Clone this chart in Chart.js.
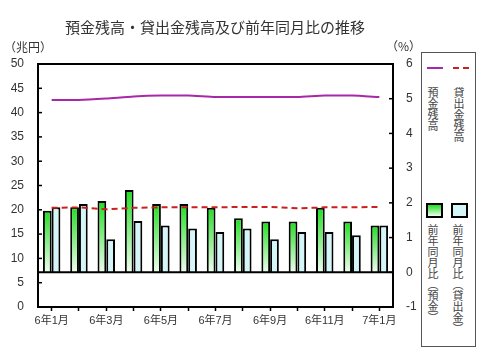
<!DOCTYPE html>
<html>
<head>
<meta charset="utf-8">
<script src="https://cdn.jsdelivr.net/npm/chart.js@4"></script>
<style>
  body { margin: 0; background: #fff; }
  #wrap { position: relative; width: 480px; height: 360px; }
  #chartBox { position: absolute; left: 0; top: 0; width: 430px; height: 360px; }
  .legend-box {
    position: absolute; left: 421px; top: 52px; width: 55px; height: 295px;
    border: 1px solid #555; box-sizing: border-box; background: #fff;
  }
  .vtext {
    position: absolute; writing-mode: vertical-rl; font-family: "Noto Sans CJK JP", sans-serif;
    font-size: 11px; line-height: 12px; color: #444; letter-spacing: 0;
  }
  .swatch { position: absolute; }
</style>
</head>
<body>
<div id="wrap">
  <div id="chartBox"><canvas id="chart"></canvas></div>
  <div class="legend-box" id="legend"></div>
</div>
<script>
const months = ["6年1月", "6年2月", "6年3月", "6年4月", "6年5月", "6年6月", "6年7月",
  "6年8月", "6年9月", "6年10月", "6年11月", "6年12月", "7年1月"];
// 兆円
const depositBalance = [42.6, 42.6, 42.9, 43.3, 43.5, 43.5, 43.2, 43.2, 43.2, 43.2, 43.5, 43.5, 43.2];
const loanBalance = [20.4, 20.5, 20.1, 20.4, 20.5, 20.5, 20.5, 20.6, 20.6, 20.3, 20.5, 20.5, 20.6];
// %
const depositYoY = [1.77, 1.87, 2.05, 2.37, 1.97, 1.97, 1.86, 1.56, 1.46, 1.46, 1.86, 1.46, 1.35];
const loanYoY = [1.87, 1.97, 0.95, 1.48, 1.35, 1.26, 1.16, 1.26, 0.95, 1.16, 1.16, 1.07, 1.35];
const leftTicks = { min: 0, max: 50, step: 5 };
const rightTicks = { min: -1, max: 6, step: 1 };

const FONT = "'Liberation Sans', 'Noto Sans CJK JP', sans-serif";
const CJK = "'Noto Sans CJK JP', sans-serif";

function greenFill(context) {
  const chart = context.chart;
  const area = chart.chartArea;
  if (!area) return "#22dd22";
  const y1 = chart.scales.y1;
  const top = y1.getPixelForValue(context.raw);
  const base = y1.getPixelForValue(0);
  const g = chart.ctx.createLinearGradient(0, top, 0, base);
  g.addColorStop(0, "#1ee01e");
  g.addColorStop(1, "#effdef");
  return g;
}

const frameAndTicks = {
  id: "frameAndTicks",
  afterDatasetsDraw(chart) {
    const { ctx, chartArea: a, scales } = chart;
    ctx.save();
    ctx.strokeStyle = "#000";
    // zero line on the % axis
    const z = scales.y1.getPixelForValue(0);
    ctx.lineWidth = 2;
    ctx.beginPath();
    ctx.moveTo(a.left, z);
    ctx.lineTo(a.right, z);
    ctx.stroke();
    // inward tick marks
    ctx.lineWidth = 1.5;
    for (let v = leftTicks.min; v <= leftTicks.max; v += leftTicks.step) {
      const p = scales.y.getPixelForValue(v);
      ctx.beginPath();
      ctx.moveTo(a.left, p);
      ctx.lineTo(a.left + 4, p);
      ctx.stroke();
    }
    for (let v = rightTicks.min; v <= rightTicks.max; v += rightTicks.step) {
      const p = scales.y1.getPixelForValue(v);
      ctx.beginPath();
      ctx.moveTo(a.right, p);
      ctx.lineTo(a.right - 4, p);
      ctx.stroke();
    }
    // top border
    ctx.lineWidth = 2;
    ctx.beginPath();
    ctx.moveTo(a.left, a.top);
    ctx.lineTo(a.right, a.top);
    ctx.stroke();
    // unit labels
    ctx.fillStyle = "#333";
    ctx.font = "12px " + CJK;
    ctx.textBaseline = "middle";
    ctx.textAlign = "left";
    ctx.fillText("（兆円）", 4, 47);
    ctx.fillText("（%）", 386, 46);
    ctx.restore();
  },
};

new Chart(document.getElementById("chart"), {
  data: {
    labels: months,
    datasets: [
      {
        type: "line",
        label: "預金残高",
        data: depositBalance,
        yAxisID: "y",
        borderColor: "#a828a8",
        borderWidth: 2,
        pointRadius: 0,
        tension: 0.2,
        order: 0,
      },
      {
        type: "line",
        label: "貸出金残高",
        data: loanBalance,
        yAxisID: "y",
        borderColor: "#cc1f1f",
        borderWidth: 2,
        borderDash: [6, 4],
        pointRadius: 0,
        order: 0,
      },
      {
        type: "bar",
        label: "前年同月比（預金）",
        data: depositYoY,
        yAxisID: "y1",
        backgroundColor: greenFill,
        borderColor: "#000",
        borderWidth: 2,
        borderSkipped: "bottom",
        categoryPercentage: 0.64,
        barPercentage: 1,
        order: 1,
      },
      {
        type: "bar",
        label: "前年同月比（貸出金）",
        data: loanYoY,
        yAxisID: "y1",
        backgroundColor: "#d4f6f8",
        borderColor: "#000",
        borderWidth: 2,
        borderSkipped: "bottom",
        categoryPercentage: 0.64,
        barPercentage: 1,
        order: 1,
      },
    ],
  },
  options: {
    responsive: true,
    maintainAspectRatio: false,
    animation: false,
    layout: { padding: 0 },
    plugins: {
      legend: { display: false },
      tooltip: { enabled: false },
      title: {
        display: true,
        text: "預金残高・貸出金残高及び前年同月比の推移",
        color: "#333",
        font: { family: CJK, size: 15, weight: "normal", lineHeight: 1.2 },
        padding: { top: 18, bottom: 28 },
      },
    },
    scales: {
      x: {
        offset: true,
        grid: { display: true, drawOnChartArea: false, offset: false, tickLength: 4, tickColor: "#000", tickWidth: 1.5 },
        border: { display: true, color: "#000", width: 2 },
        ticks: {
          autoSkip: false,
          maxRotation: 0,
          padding: 3,
          color: "#333",
          font: { family: FONT, size: 11 },
          callback: (v, i) => (i % 2 === 0 ? months[i] : ""),
        },
        afterFit: (s) => { s.height = 53; },
      },
      y: {
        position: "left",
        min: leftTicks.min,
        max: leftTicks.max,
        grid: { display: false },
        border: { display: true, color: "#000", width: 2 },
        ticks: { stepSize: leftTicks.step, padding: 6, color: "#333", font: { family: FONT, size: 12 } },
        afterFit: (s) => { s.width = 38; },
      },
      y1: {
        position: "right",
        min: rightTicks.min,
        max: rightTicks.max,
        grid: { display: false },
        border: { display: true, color: "#000", width: 2 },
        ticks: { stepSize: rightTicks.step, padding: 5, color: "#333", font: { family: FONT, size: 12 } },
        afterFit: (s) => { s.width = 37; },
      },
    },
  },
  plugins: [frameAndTicks],
});

// legend box (vertical Japanese text)
const legendItems = [
  { kind: "line", color: "#a828a8", dash: false, x: 5, y: 14, text: "預金残高" },
  { kind: "line", color: "#cc1f1f", dash: true, x: 31, y: 14, text: "貸出金残高" },
  { kind: "bar", fill: "linear-gradient(#1ee01e, #effdef)", x: 4, y: 150, text: "前年同月比（預金）" },
  { kind: "bar", fill: "#d4f6f8", x: 29, y: 150, text: "前年同月比（貸出金）" },
];
const legend = document.getElementById("legend");
legendItems.forEach((item) => {
  const sw = document.createElement("div");
  sw.className = "swatch";
  if (item.kind === "line") {
    sw.style.left = item.x + "px";
    sw.style.top = item.y + "px";
    sw.style.width = "16px";
    sw.style.height = "0";
    sw.style.borderTop = "2px " + (item.dash ? "dashed " : "solid ") + item.color;
  } else {
    sw.style.left = item.x + "px";
    sw.style.top = item.y + "px";
    sw.style.width = "17px";
    sw.style.height = "15px";
    sw.style.boxSizing = "border-box";
    sw.style.border = "2px solid #000";
    sw.style.background = item.fill;
  }
  legend.appendChild(sw);
  const t = document.createElement("div");
  t.className = "vtext";
  t.textContent = item.text;
  t.style.left = item.x + (item.kind === "line" ? 0 : 1) + "px";
  t.style.top = item.y + (item.kind === "line" ? 20 : 21) + "px";
  legend.appendChild(t);
});
</script>
</body>
</html>
